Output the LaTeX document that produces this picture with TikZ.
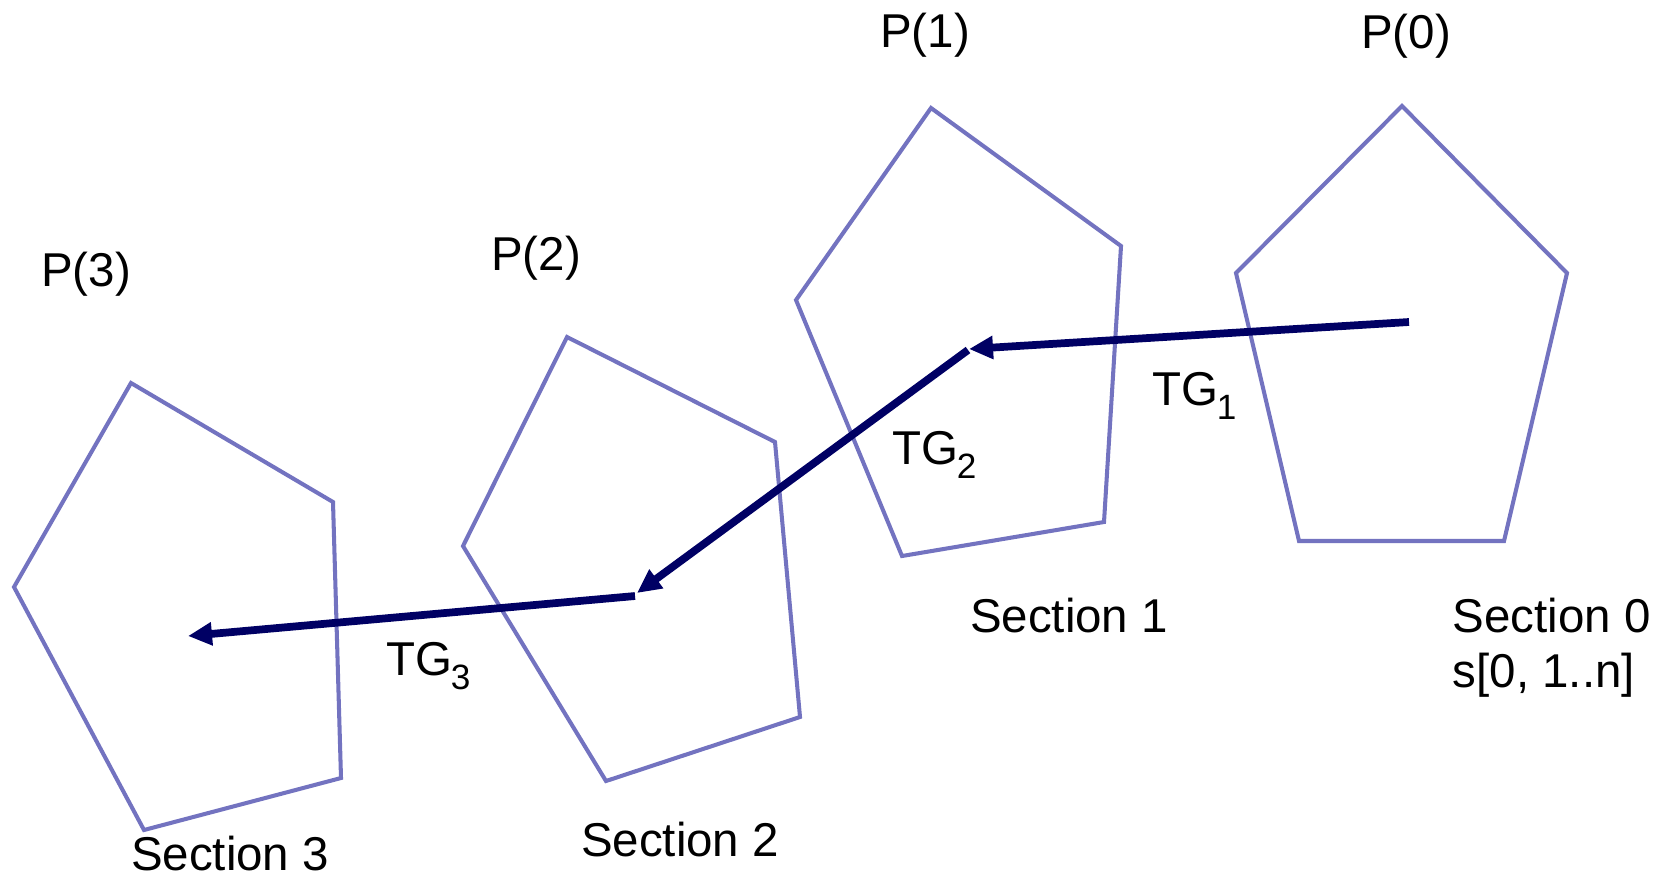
\documentclass[tikz,border=0pt]{standalone}
\usepackage{fontspec}
\setmainfont{Liberation Sans}
\usetikzlibrary{arrows.meta}
\definecolor{penta}{RGB}{115,115,192}
\definecolor{navy}{RGB}{0,0,100}
\newcommand{\tgsub}[1]{\kern-0.5pt\raisebox{-4pt}{\fontsize{10}{12}\selectfont #1}}
\tikzset{
  pent/.style={draw=penta, line width=1.15pt, line join=miter},
  tg/.style={draw=navy, line width=2.2pt, -{Triangle[length=0.24cm,width=0.22cm]}},
  lbl/.style={inner sep=0pt, font=\fontsize{13.5}{16}\selectfont},
}
\begin{document}
\begin{tikzpicture}[x=0.01cm,y=-0.01cm]
\useasboundingbox (0,0) rectangle (1664,878);
% pentagons
\draw[pent] (1402,106) -- (1567,273) -- (1504,541) -- (1299,541) -- (1236,273) -- cycle;
\draw[pent] (931,108) -- (1121,246) -- (1104,522) -- (902,556) -- (796,300) -- cycle;
\draw[pent] (567,337) -- (775,442) -- (800,717) -- (606,781) -- (463,546) -- cycle;
\draw[pent] (131,383) -- (333,502) -- (341,778) -- (144,830) -- (14,587) -- cycle;
% arrow end points
\coordinate (a0) at (1409,322);
\coordinate (a1) at (969,349);
\coordinate (b1) at (968,350);
\coordinate (a2) at (637,593);
\coordinate (b2) at (635,596);
\coordinate (a3) at (188,636);
\draw[tg] (a0) -- (a1);
\draw[tg] (b1) -- (a2);
\draw[tg] (b2) -- (a3);
% labels
\node[lbl] (p0) at (1406,36) {P(0)};
\node[lbl] (p1) at (925,35) {P(1)};
\node[lbl] (p2) at (536,258) {P(2)};
\node[lbl] (p3) at (86,274) {P(3)};
\node[lbl, anchor=west] (s0) at (1452,616) {Section 0};
\node[lbl, anchor=west] (s0b) at (1452,675) {s[0, 1..n]};
\node[lbl] (s1) at (1069,616) {Section 1};
\node[lbl] (s2) at (680,840) {Section 2};
\node[lbl] (s3) at (230,854) {Section 3};
\node[lbl, anchor=base west] (tg1) at (1152,405) {TG\tgsub{1}};
\node[lbl, anchor=base west] (tg2) at (892,464) {TG\tgsub{2}};
\node[lbl, anchor=base west] (tg3) at (386,675) {TG\tgsub{3}};
\end{tikzpicture}
\end{document}
